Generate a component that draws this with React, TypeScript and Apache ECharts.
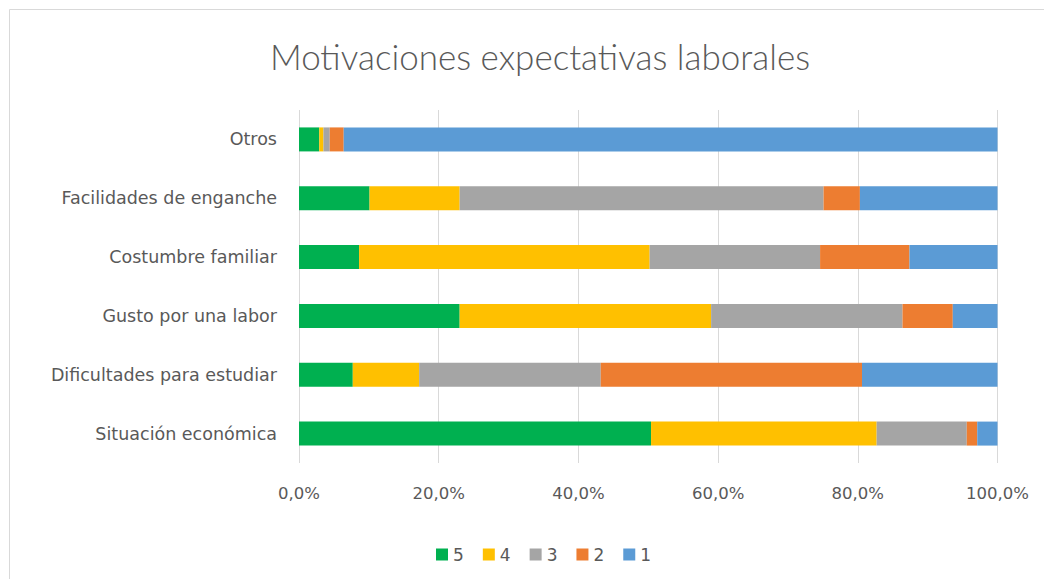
import React, { useEffect, useRef } from "react";
import * as echarts from "echarts";

const categories = [
  "Situación económica",
  "Dificultades para estudiar",
  "Gusto por una labor",
  "Costumbre familiar",
  "Facilidades de enganche",
  "Otros",
];
const seriesNames = ["5", "4", "3", "2", "1"];
const v5 = [50.4, 7.7, 23.0, 8.6, 10.1, 2.9];
const v4 = [32.3, 9.5, 36.0, 41.6, 12.9, 0.6];
const v3 = [12.9, 26.0, 27.4, 24.4, 52.1, 0.9];
const v2 = [1.5, 37.4, 7.2, 12.8, 5.2, 2.0];
const v1 = [2.9, 19.4, 6.4, 12.6, 19.7, 93.6];
const colors = ["#00B050", "#FFC000", "#A5A5A5", "#ED7D31", "#5B9BD5"];
const xTicks = [0, 20, 40, 60, 80, 100];

export default function App() {
  const ref = useRef<HTMLDivElement>(null);
  useEffect(() => {
    if (!ref.current) return;
    const chart = echarts.init(ref.current, null, { renderer: "svg" });
    const data = [v5, v4, v3, v2, v1];
    const labelFont = "DejaVu Sans";
    chart.setOption({
      animation: false,
      textStyle: { fontFamily: labelFont },
      title: {
        text: "Motivaciones expectativas laborales",
        left: 535,
        top: 33,
        textAlign: "center",
        textStyle: { fontFamily: "Lato", fontWeight: 300, fontSize: 35, color: "#595959" },
      },
      graphic: [
        {
          type: "rect",
          shape: { x: 9.5, y: 9.5, width: 1100, height: 700 },
          style: { fill: "none", stroke: "#D9D9D9", lineWidth: 1 },
          silent: true,
        },
      ],
      legend: {
        data: seriesNames,
        left: 431,
        top: 541,
        itemWidth: 12,
        itemHeight: 12,
        itemGap: 19,
        icon: "rect",
        textStyle: { fontFamily: labelFont, fontSize: 17, color: "#595959" },
      },
      grid: { left: 299, right: 46.5, top: 110, bottom: 116, containLabel: false },
      xAxis: {
        type: "value",
        min: 0,
        max: 100,
        interval: 20,
        axisLine: { show: false },
        axisTick: { show: false },
        splitLine: { show: true, lineStyle: { color: "#D9D9D9", width: 1 } },
        axisLabel: {
          color: "#595959",
          fontSize: 16.5,
          margin: 22,
          formatter: (v: number) => (xTicks.includes(v) ? v.toFixed(1).replace(".", ",") + "%" : ""),
        },
      },
      yAxis: {
        type: "category",
        data: categories,
        axisLine: { show: false },
        axisTick: { show: false },
        axisLabel: { color: "#595959", fontSize: 17.5, margin: 22 },
      },
      series: seriesNames.map((n, i) => ({
        name: n,
        type: "bar",
        stack: "total",
        barWidth: 24,
        data: data[i],
        itemStyle: { color: colors[i] },
      })),
    });
    return () => chart.dispose();
  }, []);
  return (
    <div
      ref={ref}
      style={{ position: "absolute", left: 0, top: 0, width: 1044, height: 579, background: "#fff" }}
    />
  );
}
